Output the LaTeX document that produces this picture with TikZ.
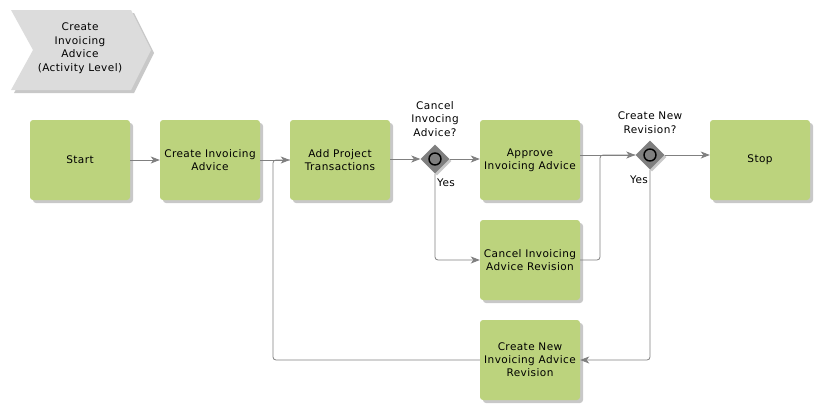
\documentclass[tikz,border=0pt]{standalone}
\usepackage{fontspec}
\setmainfont{DejaVu Sans}[LetterSpace=4]
\usepackage{tikz}
\usetikzlibrary{positioning, arrows.meta, shapes.geometric, shadows}
\definecolor{actFill}{HTML}{BCD37D}
\definecolor{cLine}{HTML}{808080}
\definecolor{cShadow}{HTML}{C8C8C8}
\definecolor{cChevron}{HTML}{DCDCDC}
\definecolor{cGate}{HTML}{7F7F7F}

\tikzset{
  actbox/.style={fill=actFill, rounded corners=3pt, minimum width=100pt,
    minimum height=80pt, align=center, inner sep=1pt,
    font=\fontsize{10.5}{13}\selectfont,
    drop shadow={shadow xshift=3pt, shadow yshift=-3pt, fill=cShadow, opacity=1}},
  gatebox/.style={diamond, fill=cGate, minimum width=29pt, minimum height=29pt,
    inner sep=0pt,
    drop shadow={shadow xshift=2pt, shadow yshift=-2pt, fill=cShadow, opacity=1}},
  gatering/.style={circle, draw=black, line width=1.4pt, fill=cGate,
    minimum size=12pt, inner sep=0pt},
  lbl/.style={align=center, font=\fontsize{10.5}{13.5}\selectfont},
  flow/.style={draw=cLine, line width=0.8pt, rounded corners=3pt,
    -{Stealth[length=9pt, width=7pt, inset=2.5pt]}},
  plain/.style={draw=cLine, line width=0.8pt, rounded corners=3pt},
}

\begin{document}
\begin{tikzpicture}[x=1pt, y=-1pt]
  \useasboundingbox (0,0) rectangle (820,410);

  % header chevron
  \fill[cShadow] (14,13) -- (134,13) -- (154,53) -- (134,93) -- (14,93) -- (36,53) -- cycle;
  \fill[cChevron] (11,10) -- (131,10) -- (151,50) -- (131,90) -- (11,90) -- (33,50) -- cycle;
  \node[lbl] (title) at (80,48) {Create\\Invoicing\\Advice\\(Activity Level)};

  % activities
  \node[actbox] (start) at (80,160) {Start};
  \node[actbox] (cia)   at (210,160) {Create Invoicing\\Advice};
  \node[actbox] (apt)   at (340,160) {Add Project\\Transactions};
  \node[actbox] (aia)   at (530,160) {Approve\\Invoicing Advice};
  \node[actbox] (ciar)  at (530,260) {Cancel Invoicing\\Advice Revision};
  \node[actbox] (cniar) at (530,360) {Create New\\Invoicing Advice\\Revision};
  \node[actbox] (stop)  at (760,160) {Stop};

  % gateways
  \node[gatebox] (g1) at (435,159) {};
  \node[gatering] (g1r) at (g1) {};
  \node[lbl, anchor=south] (g1l) at (435,140) {Cancel\\Invocing\\Advice?};
  \node[lbl] (g1y) at (446,183) {Yes};

  \node[gatebox] (g2) at (650,155) {};
  \node[gatering] (g2r) at (g2) {};
  \node[lbl, anchor=south] (g2l) at (650,137) {Create New\\Revision?};
  \node[lbl] (g2y) at (639,180) {Yes};

  \coordinate (loopup) at (273,160);
  \coordinate (joinup) at (600,155);

  % connectors
  \draw[flow] (start.east) -- (cia.west);
  \draw[flow] (cia.east) -- (apt.west);
  \draw[flow] (apt.east |- g1.west) -- (g1.west);
  \draw[flow] (g1.east) -- (aia.west |- g1.east);
  \draw[flow] (g1.south) |- (ciar.west);
  \draw[flow] (aia.east |- g2.west) -- (g2.west);
  \draw[plain] (ciar.east) -| (joinup) -- (g2.west);
  \draw[flow] (g2.east) -- (stop.west |- g2.east);
  \draw[flow] (g2.south) |- (cniar.east);
  \draw[plain] (cniar.west) -| (loopup) -- (apt.west);
\end{tikzpicture}
\end{document}
